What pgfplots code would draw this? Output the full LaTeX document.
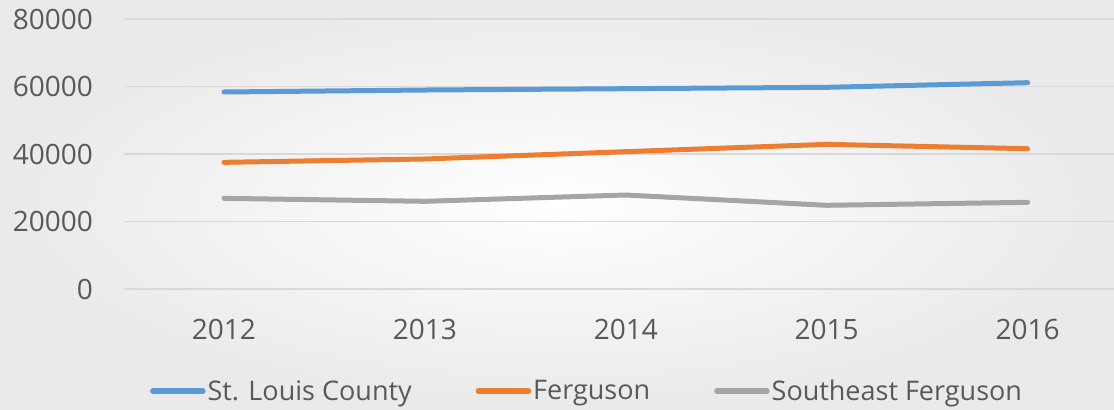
\documentclass[border=0pt]{standalone}
\usepackage{fontspec}
\setmainfont{Open Sans}
\usepackage{pgfplots}
\pgfplotsset{compat=1.18}
\definecolor{sblue}{HTML}{5B9BD5}
\definecolor{sorange}{HTML}{ED7D31}
\definecolor{sgray}{HTML}{A5A5A5}
\definecolor{gridgray}{HTML}{D9D9D9}
\definecolor{labelgray}{HTML}{595959}
\definecolor{bgouter}{HTML}{EAEAEA}
\begin{document}
\begin{tikzpicture}[x=1bp,y=1bp]
\shade[inner color=white, outer color=bgouter] (0,0) rectangle (1114,409);
\begin{axis}[
  at={(123.5bp,120bp)}, anchor=south west,
  width=990.5bp, height=270bp, scale only axis,
  xmin=-0.5, xmax=4.43, ymin=0, ymax=80000,
  xtick={0,1,2,3,4}, xticklabels={2012,2013,2014,2015,2016},
  ytick={0,20000,40000,60000,80000},
  scaled y ticks=false,
  /pgf/number format/assume math mode=true,
  /pgf/number format/set thousands separator={},
  ymajorgrids, grid style={color=gridgray, line width=1.3bp},
  axis line style={draw=none},
  major tick length=0pt,
  tick label style={font=\fontsize{28bp}{34bp}\selectfont, text=labelgray},
  yticklabel style={anchor=east, xshift=-27bp},
  xticklabel style={yshift=-27bp},
  legend style={at={(0.468,-0.378)}, anchor=center, draw=none, fill=none,
    font=\fontsize{27bp}{32bp}\selectfont, text=labelgray,
    nodes={inner xsep=2bp},
    /tikz/every even column/.append style={column sep=62bp}},
  legend columns=3,
  legend image post style={line width=5.5bp, line cap=round},
  legend image code/.code={\draw[#1, line width=5.5bp, line cap=round] (0bp,0bp) -- (50bp,0bp);},
  every axis plot/.append style={line width=5bp, line cap=round, line join=round, no markers},
]
\addplot[sblue] coordinates {(0,58370) (1,58960) (2,59350) (3,59760) (4,61130)};
\addlegendentry{St. Louis County}
\addplot[sorange] coordinates {(0,37530) (1,38520) (2,40690) (3,42860) (4,41570)};
\addlegendentry{Ferguson}
\addplot[sgray] coordinates {(0,26860) (1,25980) (2,27850) (3,24800) (4,25680)};
\addlegendentry{Southeast Ferguson}
\end{axis}
\pgfresetboundingbox
\useasboundingbox (0,0) rectangle (1114,409);
\end{tikzpicture}
\end{document}
